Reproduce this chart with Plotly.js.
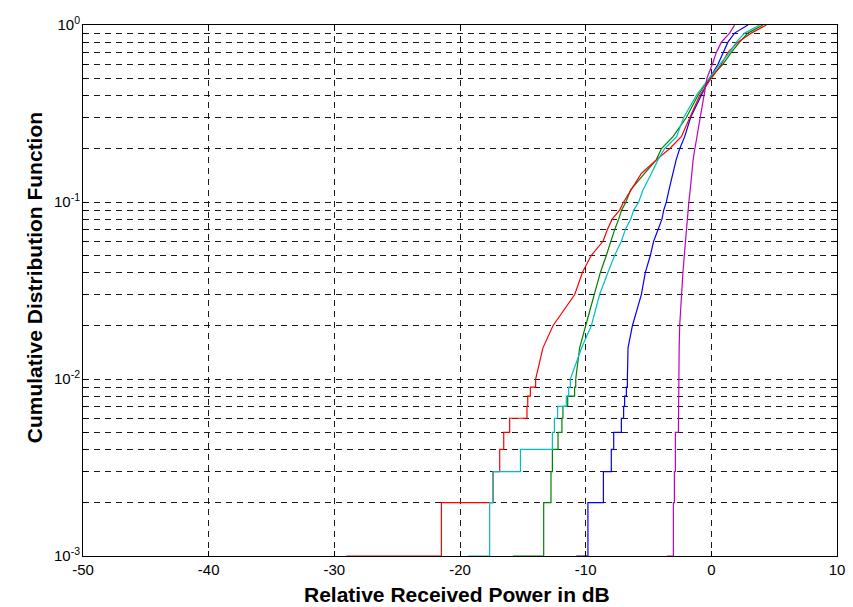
<!DOCTYPE html>
<html>
<head>
<meta charset="utf-8">
<script src="https://cdn.plot.ly/plotly-3.0.1.min.js"></script>
<style>
  html, body { margin: 0; padding: 0; background: #ffffff; }
  #chart { width: 853px; height: 607px; }
</style>
</head>
<body>
<div id="chart"></div>
<script>
// ---- Data (x in dB, y = CDF) ----
// Empirical-CDF staircase near the bottom: CDF level after each jump
const stepLevels = [0.001, 0.002, 0.003, 0.004, 0.005, 0.006, 0.007, 0.008, 0.009, 0.010];
// Upper part of each CDF: levels where the curves were read
const upperLevels = [0.01, 0.015, 0.02, 0.03, 0.04, 0.05, 0.06, 0.07, 0.08, 0.09, 0.1,
                     0.117, 0.145, 0.173, 0.2, 0.234, 0.3, 0.4, 0.5, 0.6, 0.7, 0.8, 0.9, 1.0];

const blueStep    = [-10.74, -9.82, -8.59, -7.96, -7.77, -7.16, -6.98, -6.90, -6.76, -6.68];
const blueUpper   = [-6.68, -6.63, -6.28, -5.57, -5.25, -4.85, -4.59, -4.25, -3.93, -3.79, -3.58,
                     -3.37, -3.05, -2.80, -2.52, -2.12, -1.65, -0.80, -0.14, 0.53, 0.92, 1.32, 1.85, 2.91];

const greenStep   = [-15.78, -13.34, -12.76, -12.65, -12.20, -11.89, -11.81, -11.43, -10.88, -10.79];
const greenUpper  = [-10.79, -10.48, -10.00, -9.28, -8.83, -8.35, -8.01, -7.69, -7.37, -7.14, -6.80,
                     -6.42, -5.31, -4.38, -3.98, -3.05, -1.99, -1.07, -0.14, 0.92, 1.59, 2.25, 2.91, 4.10];

const redStep     = [-29.04, -21.48, -17.37, -16.84, -16.52, -16.05, -14.67, -14.61, -14.40, -13.98];
const redUpper    = [-13.98, -13.40, -12.60, -10.87, -10.26, -9.55, -8.62, -8.27, -7.89, -7.30, -6.98,
                     -6.39, -5.57, -4.38, -3.32, -2.39, -1.73, -0.93, 0.00, 0.80, 1.32, 2.12, 3.18, 4.38];

const cyanStep    = [-19.36, -17.64, -17.37, -15.19, -12.65, -12.49, -12.23, -11.54, -11.35, -11.22];
const cyanUpper   = [-11.22, -10.32, -9.55, -8.89, -8.23, -7.69, -7.16, -6.84, -6.42, -6.18, -5.78,
                     -5.44, -4.77, -4.25, -3.72, -2.76, -2.20, -1.19, -0.19, 0.66, 1.46, 1.99, 2.65, 3.84];

const magentaStep = [-3.53, -3.02, -2.94, -2.86, -2.86, -2.62, -2.62, -2.62, -2.62, -2.62];
const magentaUpper= [-2.60, -2.56, -2.52, -2.39, -2.26, -2.15, -2.07, -1.99, -1.90, -1.85, -1.79,
                     -1.68, -1.56, -1.45, -1.31, -1.15, -0.93, -0.60, -0.35, 0.08, 0.40, 0.80, 1.46, 1.85];

const xTicks = [-50, -40, -30, -20, -10, 0, 10];
const yDecades = [0.001, 0.01, 0.1, 1];
const yDecadeLabels = ['10<sup>-3</sup>', '10<sup>-2</sup>', '10<sup>-1</sup>', '10<sup>0</sup>'];
const yMultipliers = [2, 3, 4, 5, 6, 7, 8, 9];
const xTitle = 'Relative Received Power in dB';
const yTitle = 'Cumulative Distribution Function';

// ---- Build traces ----
function curve(stepDb, upperDb) {
  const x = [], y = [];
  stepDb.forEach((d, i) => {
    if (i > 0) { x.push(d); y.push(stepLevels[i - 1]); }
    x.push(d); y.push(stepLevels[i]);
  });
  upperDb.forEach((d, i) => { x.push(d); y.push(upperLevels[i]); });
  return { x, y };
}

const series = [
  { step: blueStep,    upper: blueUpper,    color: '#0000ff' },
  { step: greenStep,   upper: greenUpper,   color: '#008000' },
  { step: redStep,     upper: redUpper,     color: '#ff0000' },
  { step: cyanStep,    upper: cyanUpper,    color: '#00bfbf' },
  { step: magentaStep, upper: magentaUpper, color: '#bf00bf' }
];

const traces = series.map(s => {
  const c = curve(s.step, s.upper);
  return {
    x: c.x, y: c.y, type: 'scatter', mode: 'lines',
    line: { color: s.color, width: 1.2 },
    hoverinfo: 'x+y', showlegend: false
  };
});

// minor log grid: 2..9 x each decade
const yMinorVals = [];
yDecades.slice(0, -1).forEach(d => yMultipliers.forEach(m => yMinorVals.push(d * m)));

const font = 'Liberation Sans, Arial, Helvetica, sans-serif';
const gridColor = '#1a1a1a';
const gridDash = '6px,5px';
const titleFont = { family: font, size: 21, weight: 'bold', color: '#000000' };

const layout = {
  width: 853, height: 607,
  margin: { l: 83, r: 16, t: 25, b: 51 },
  paper_bgcolor: '#ffffff', plot_bgcolor: '#ffffff',
  font: { family: font, color: '#000000', size: 15 },
  showlegend: false,
  xaxis: {
    range: [-50, 10], tickmode: 'array', tickvals: xTicks, ticktext: xTicks.map(String),
    showgrid: true, gridcolor: gridColor, gridwidth: 1, griddash: gridDash,
    zeroline: false, showline: true, mirror: 'ticks', linecolor: '#000000', linewidth: 1,
    ticks: 'inside', ticklen: 5, tickcolor: '#000000',
    tickfont: { family: font, size: 15, color: '#000000' },
    automargin: false, layer: 'below traces'
  },
  yaxis: {
    type: 'log', range: [-3, 0], tickmode: 'array', tickvals: yDecades, ticktext: yDecadeLabels,
    showgrid: true, gridcolor: gridColor, gridwidth: 1, griddash: gridDash,
    minor: { tickmode: 'array', tickvals: yMinorVals, showgrid: true, gridcolor: gridColor,
             gridwidth: 1, griddash: gridDash, ticks: 'inside', ticklen: 4, tickcolor: '#000000' },
    zeroline: false, showline: true, mirror: 'ticks', linecolor: '#000000', linewidth: 1,
    ticks: 'inside', ticklen: 5, tickcolor: '#000000', ticklabelstandoff: -1,
    tickfont: { family: font, size: 15, color: '#000000' },
    automargin: false, layer: 'below traces'
  },
  annotations: [
    { text: xTitle, xref: 'paper', yref: 'paper', x: 0.496, y: -0.0734,
      xanchor: 'center', yanchor: 'middle', showarrow: false, font: titleFont },
    { text: yTitle, xref: 'paper', yref: 'paper', x: -0.065, y: 0.525, textangle: -90,
      xanchor: 'center', yanchor: 'middle', showarrow: false, font: titleFont }
  ]
};

Plotly.newPlot('chart', traces, layout, { displayModeBar: false, staticPlot: true });
</script>
</body>
</html>
